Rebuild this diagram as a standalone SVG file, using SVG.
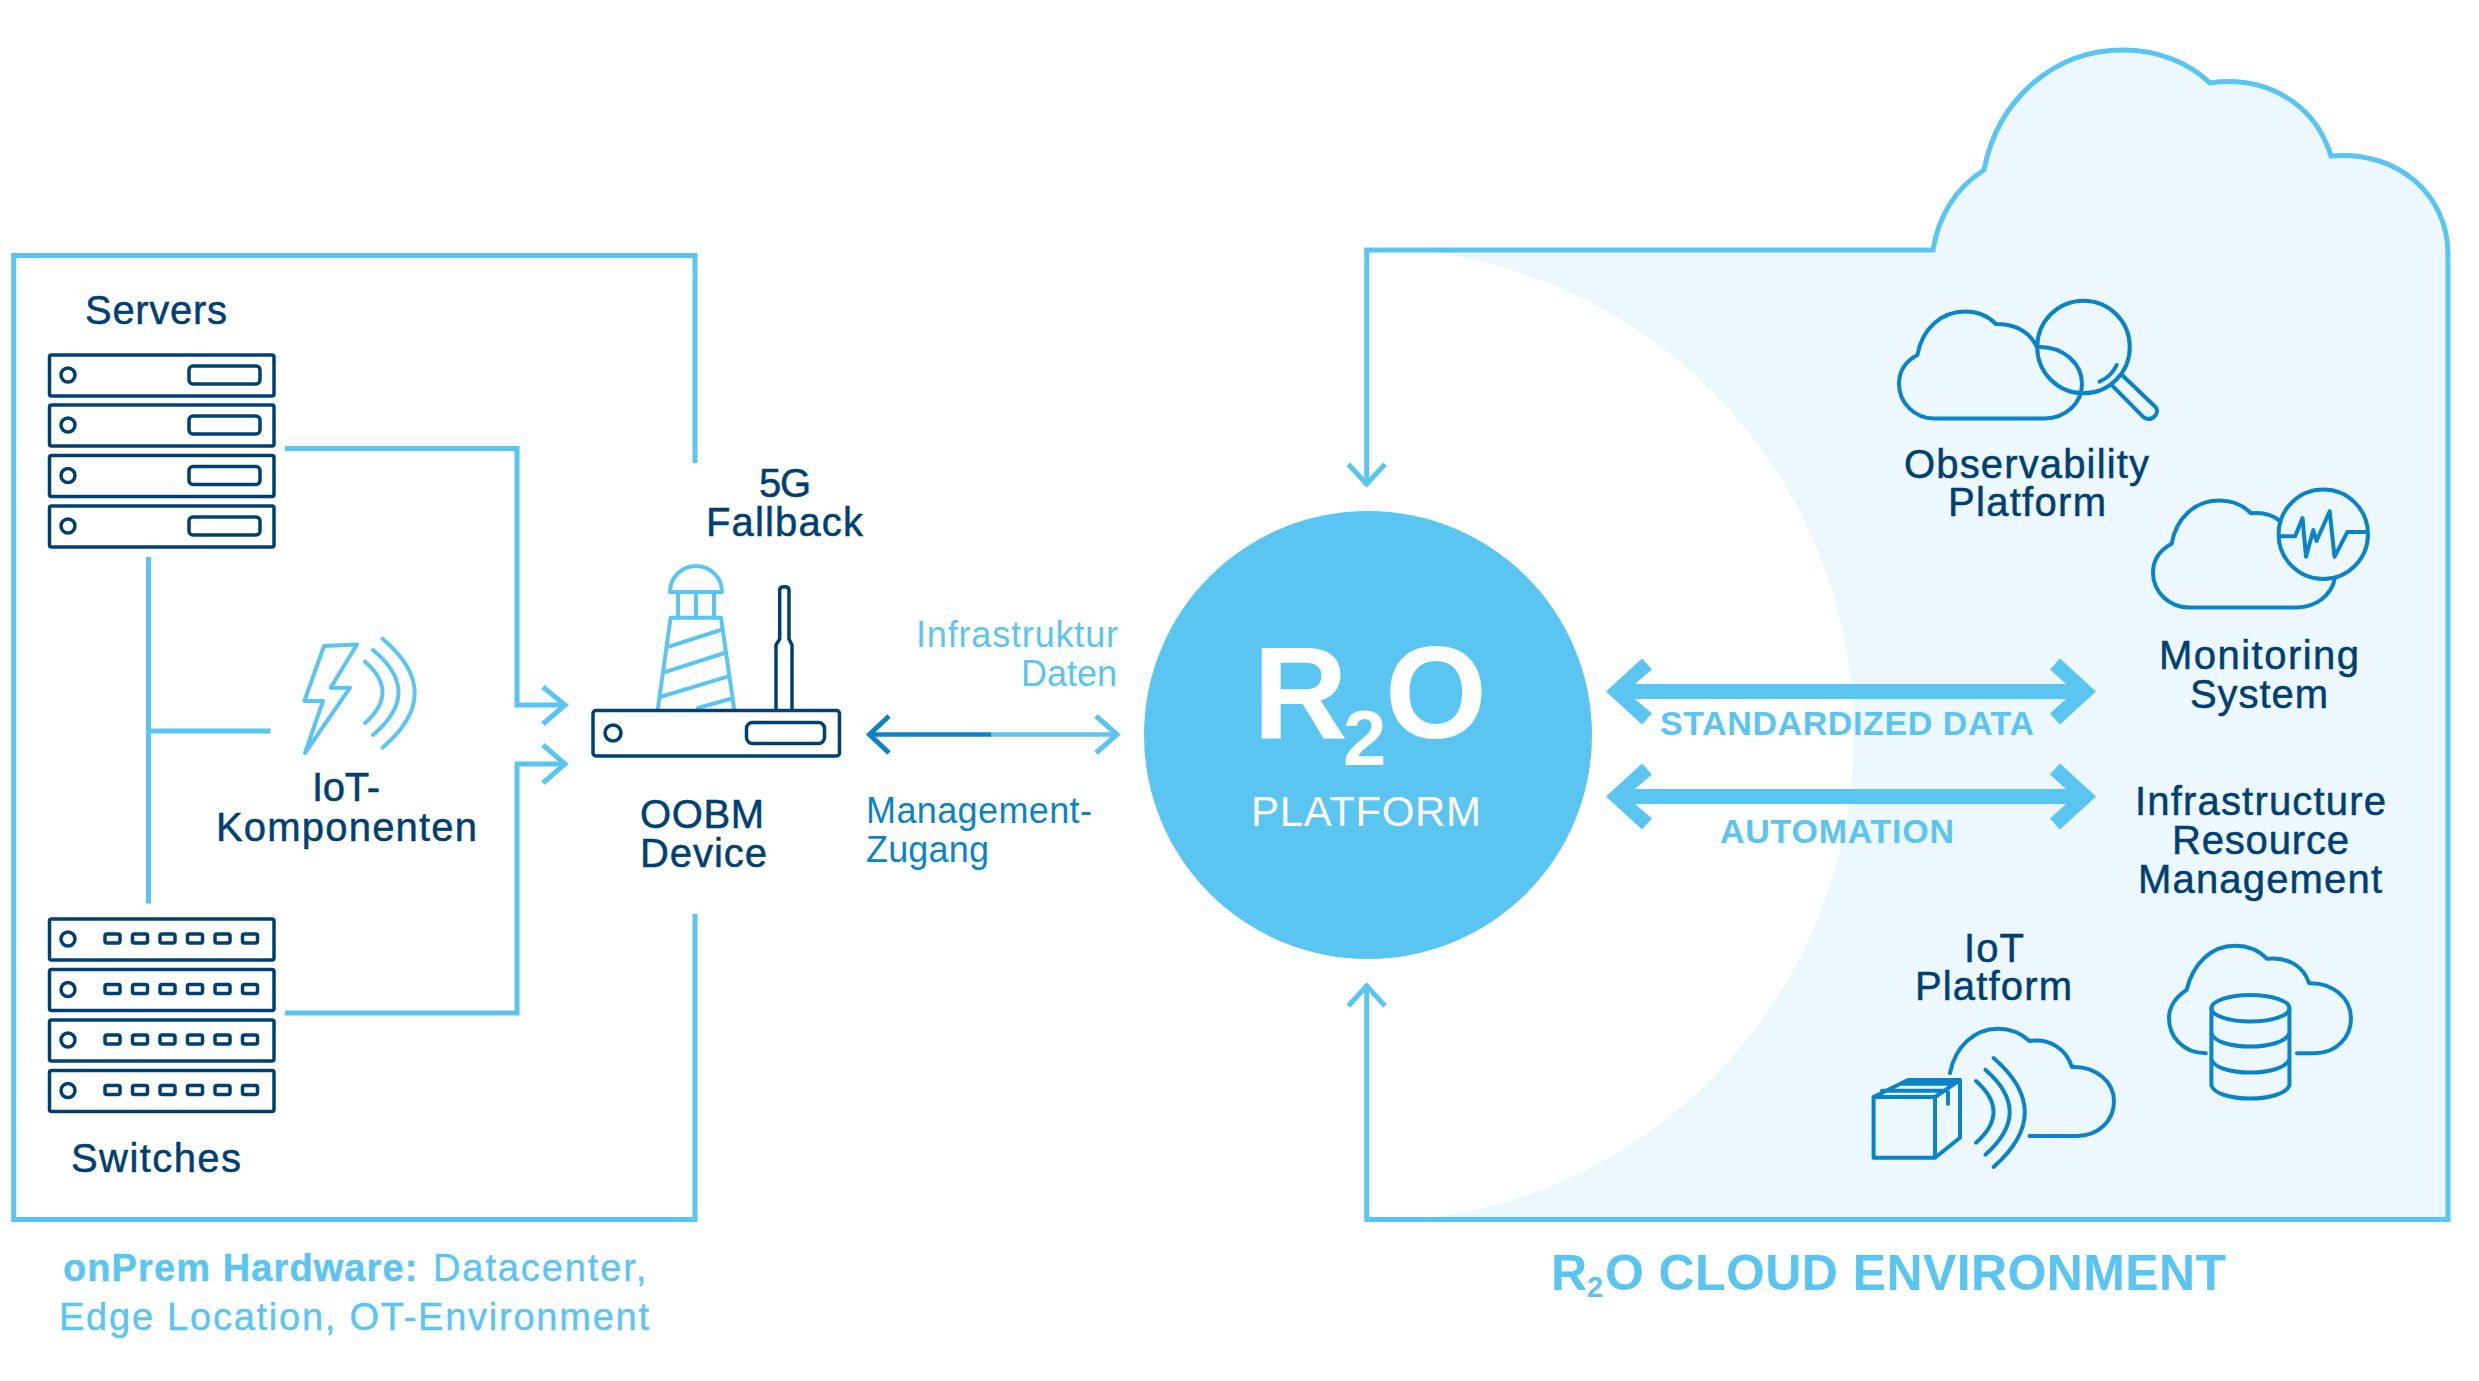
<svg xmlns="http://www.w3.org/2000/svg" xmlns:xlink="http://www.w3.org/1999/xlink" width="2479" height="1381" viewBox="0 0 2479 1381">
<style>
text{font-family:"Liberation Sans",Arial,sans-serif}
.d{fill:#004071;font-size:40px;stroke:#004071;stroke-width:.5px}
.l{fill:#5bc5f2;font-size:36px}
.m{fill:#0a84c6;font-size:36px}
.b{font-weight:700}
.s{font-size:34px}
.cap{fill:#5bc5f2;font-size:38px;stroke:#5bc5f2;stroke-width:.4px}
.conn{fill:none;stroke:#5bc5f2;stroke-width:5}
.tl{fill:none;stroke:#5bc5f2;stroke-width:4;stroke-linejoin:round;stroke-linecap:round}
.tn{fill:none;stroke:#004071;stroke-width:3.5;stroke-linejoin:round;stroke-linecap:round}
.tm{fill:none;stroke:#0a84c6;stroke-width:4;stroke-linejoin:round;stroke-linecap:round}
.fat{fill:#5bc5f2}
</style>
<defs>
<g id="srv"><rect class="tn" x="49.5" y="0" width="224.5" height="41" rx="2"/><circle class="tn" cx="68" cy="20" r="7"/><rect class="tn" x="189" y="11" width="71" height="18" rx="4"/></g>
<g id="swi"><rect class="tn" x="49.5" y="0" width="224.5" height="41" rx="2"/><circle class="tn" cx="68" cy="20" r="7"/>
<rect class="tn" x="105" y="15" width="15" height="9" rx="2"/><rect class="tn" x="132.5" y="15" width="15" height="9" rx="2"/><rect class="tn" x="160" y="15" width="15" height="9" rx="2"/><rect class="tn" x="187.5" y="15" width="15" height="9" rx="2"/><rect class="tn" x="215" y="15" width="15" height="9" rx="2"/><rect class="tn" x="242.5" y="15" width="15" height="9" rx="2"/></g>
<clipPath id="cloudClip"><path d="M1367,250H1933C1938,218 1955,188 1984,170C1998,98 2055,50 2123,50C2157,50 2188,62 2210,83C2265,75 2315,103 2331,156C2398,150 2448,195 2448,254V1219.5H1367Z"/></clipPath>
</defs>

<g id="cloud-environment">
<path d="M1367,250H1933C1938,218 1955,188 1984,170C1998,98 2055,50 2123,50C2157,50 2188,62 2210,83C2265,75 2315,103 2331,156C2398,150 2448,195 2448,254V1219.5H1367Z" fill="#ecf7fe"/>
<circle cx="1367" cy="735" r="487" fill="#fff" clip-path="url(#cloudClip)"/>
<path class="conn" d="M1366.7,486V250H1933C1938,218 1955,188 1984,170C1998,98 2055,50 2123,50C2157,50 2188,62 2210,83C2265,75 2315,103 2331,156C2398,150 2448,195 2448,254V1219.5H1366.7V984"/>
<text class="b" x="1551" y="1290" font-size="50" fill="#5bc5f2">R<tspan x="1587" y="1296.7" font-size="29">2</tspan><tspan x="1605" y="1290" letter-spacing="0.4">O CLOUD ENVIRONMENT</tspan></text>
</g>

<g id="onprem-box">
<path class="conn" d="M695,463V255.5H13.7V1219.5H695V914"/>
<text class="cap" y="1281"><tspan class="b" x="63" letter-spacing="1.1">onPrem Hardware:</tspan><tspan x="433" letter-spacing="1.9">Datacenter,</tspan></text>
<text class="cap" x="59" y="1330" textLength="590">Edge Location, OT-Environment</text>
</g>

<g id="connectors">
<path class="conn" d="M285,448.5H517V705H563"/>
<path class="conn" d="M285,1013H517V764H563"/>
<path class="conn" d="M543,687L565,705L543,724"/>
<path class="conn" d="M543,745L565,764L543,783"/>
<path class="conn" stroke-width="4" d="M148.5,557V903.5"/>
<path class="conn" d="M148.5,731H270.5"/>
<path class="conn" d="M1348.3,464.3L1366.7,484L1385,464.3"/>
<path class="conn" d="M1348.3,1006L1366.7,986L1385,1006"/>
<path fill="none" stroke="#0a84c6" stroke-width="4.5" d="M870,734.5H991"/>
<path fill="none" stroke="#5bc5f2" stroke-width="4.5" d="M991,734.5H1116"/>
<path fill="none" stroke="#0a84c6" stroke-width="5" d="M889,716L869.5,734.5L889,753"/>
<path fill="none" stroke="#5bc5f2" stroke-width="5" d="M1096,716L1117,734.5L1096,753"/>
<polygon class="fat" points="1606,691.5 1642,658.5 1652,669.5 1635,684 2066,684 2050,669.5 2060,658.5 2096,691.5 2060,724.5 2050,713.5 2066,699 1635,699 1652,713.5 1642,724.5"/>
<polygon class="fat" points="1606,796.5 1642,763.5 1652,774.5 1635,789 2066,789 2050,774.5 2060,763.5 2096,796.5 2060,829.5 2050,818.5 2066,804 1635,804 1652,818.5 1642,829.5"/>
<text class="l b s" x="1660" y="735" textLength="374">STANDARDIZED DATA</text>
<text class="l b s" x="1720" y="843" textLength="234">AUTOMATION</text>
<text class="l" x="916" y="647" textLength="202">Infrastruktur</text>
<text class="l" x="1021" y="685.5" textLength="96">Daten</text>
<text class="m" x="866" y="822.5" textLength="226">Management-</text>
<text class="m" x="866" y="861.5" textLength="123">Zugang</text>
</g>

<g id="servers">
<text class="d" x="85" y="324" textLength="142">Servers</text>
<use xlink:href="#srv" href="#srv" y="355"/><use xlink:href="#srv" href="#srv" y="405"/><use xlink:href="#srv" href="#srv" y="455.5"/><use xlink:href="#srv" href="#srv" y="506"/>
</g>

<g id="switches">
<use xlink:href="#swi" href="#swi" y="919"/><use xlink:href="#swi" href="#swi" y="969.5"/><use xlink:href="#swi" href="#swi" y="1020"/><use xlink:href="#swi" href="#swi" y="1070.5"/>
<text class="d" x="71" y="1172" textLength="170">Switches</text>
</g>

<g id="iot-components">
<path class="tl" stroke-width="3.5" d="M324,646L357,644.5L330.6,687.7H350L305,753L323,701H304.4Z"/>
<path class="tl" d="M365,661.7Q400,692 365,723"/>
<path class="tl" d="M373,650Q424,692 373,735"/>
<path class="tl" d="M382.5,638.7Q447,693 382.5,747.7"/>
<text class="d" x="312" y="801" textLength="68">IoT-</text>
<text class="d" x="216" y="841" textLength="261">Komponenten</text>
</g>

<g id="oobm-device">
<text class="d" x="759" y="496.5" textLength="52">5G</text>
<text class="d" x="706" y="535.5" textLength="157">Fallback</text>
<path class="tl" d="M670,592A26,26 0 0 1 722,592Z"/>
<path class="tl" d="M678,592V617.7M696,592V617.7M714,592V617.7"/>
<path class="tl" d="M658,708L670.6,617.7H721L734,708"/>
<path class="tl" d="M669,646.7L720.7,630M664,672.3L724.6,653M660,697L727.6,676.7M697.8,708L730,699"/>
<path class="tn" d="M776,709V645L779.7,639V590Q779.7,586.7 784.4,586.7Q789,586.7 789,590V639L792,645V709"/>
<rect class="tn" stroke-width="4" x="593" y="710.5" width="246.5" height="45.5" rx="3"/>
<circle class="tn" cx="613" cy="733" r="8"/>
<rect class="tn" x="746.5" y="722.5" width="78" height="21" rx="6"/>
<text class="d" x="640" y="828" textLength="124">OOBM</text>
<text class="d" x="640" y="866.5" textLength="127">Device</text>
</g>

<g id="r2o-platform">
<circle cx="1368" cy="735" r="224" fill="#5bc5f2"/>
<text class="b" x="1253" y="738" font-size="131" fill="#fff">R<tspan x="1343" y="764.5" font-size="78">2</tspan><tspan x="1385" y="738">O</tspan></text>
<text x="1251" y="825.5" font-size="42" fill="#fff" textLength="230">PLATFORM</text>
</g>

<g id="observability-platform" transform="translate(0,1)">
<path class="tm" d="M2037,346C2030,332 2018,323 1996,323C1988,315 1977,310.6 1965.5,310.6C1941,310.6 1922,328 1917.4,354C1906,360 1899,370 1899,383C1899,402 1915,417.4 1934,417.4H2044.5C2066,417.4 2082,402 2082,383C2082,362 2063,346 2040,346"/>
<circle class="tm" cx="2083.5" cy="346" r="46.3"/>
<path class="tm" d="M2099.5,380.6Q2111,376 2116.7,364"/>
<path class="tm" d="M2111.5,383.8L2144,416.6Q2150,420 2155,415Q2159,410 2155.5,406L2122.8,374.7"/>
<text class="d" x="1904" y="476.5" textLength="245">Observability</text>
<text class="d" x="1948" y="515" textLength="158">Platform</text>
</g>

<g id="monitoring-system" transform="translate(0,1)">
<path class="tm" d="M2280.4,520.2C2273,514 2263,511 2251,512.3C2243,504 2232,499.6 2219,499.6C2195,499.6 2176,517 2171.7,542.7C2160,549 2153,559 2153,571.6C2153,591 2169,606.4 2189,606.4H2297C2316,606.4 2332,594 2335,576.7"/>
<circle class="tm" cx="2323.3" cy="533.2" r="44.7"/>
<path class="tm" d="M2280.4,535.2H2295.2L2302.5,517L2306,555.8L2313.3,529L2316.5,540L2329.7,510.3L2334.5,555.8L2347.4,530.9H2365.4"/>
<text class="d" x="2159" y="668" textLength="200">Monitoring</text>
<text class="d" x="2190" y="707" textLength="138">System</text>
</g>

<g id="infrastructure-resource-management">
<text class="d" x="2135" y="814.5" textLength="251">Infrastructure</text>
<text class="d" x="2172" y="853.5" textLength="177">Resource</text>
<text class="d" x="2138" y="893" textLength="244">Management</text>
<g transform="translate(0,1.5)">
<path class="tm" d="M2205.8,1051.7C2182,1051.7 2169,1034 2169,1016.7C2169,1005 2175,996 2186.7,988.3C2193,962 2211,944.3 2235,944.3C2248,944.3 2259,949 2267,957.3C2288,955 2304,965 2309,981.7C2333,981 2351,997 2351,1016.7C2351,1036 2336,1051.7 2315.4,1051.7H2297"/>
<ellipse class="tm" cx="2250.4" cy="1006.7" rx="39" ry="13.3"/>
<path class="tm" d="M2211.4,1006.7V1084C2214,1092 2230,1097 2250.4,1097C2270,1097 2286,1092 2289.4,1084V1006.7"/>
<path class="tm" d="M2211.4,1032C2214,1040 2230,1045 2250.4,1045C2270,1045 2286,1040 2289.4,1032"/>
<path class="tm" d="M2211.4,1058C2214,1066 2230,1071 2250.4,1071C2270,1071 2286,1066 2289.4,1058"/>
</g>
</g>

<g id="iot-platform">
<text class="d" x="1964" y="961.5" textLength="60">IoT</text>
<text class="d" x="1915" y="1000" textLength="157">Platform</text>
<g transform="translate(0,2)">
<path class="tm" d="M1873.6,1095H1935V1155.7H1873.6ZM1873.6,1095L1908,1078H1960V1135.7L1935,1155.7M1935,1095L1960,1078M1882,1088.7H1945M1902,1081.7H1953.7M1948,1090V1102"/>
<path class="tm" d="M1976,1079Q2011,1110 1976,1140.7"/>
<path class="tm" d="M1985.4,1067.7Q2034,1110 1985.4,1152.7"/>
<path class="tm" d="M1993.6,1056Q2056,1110 1993.6,1165"/>
<path class="tm" d="M1950,1071C1955,1045 1974,1026.7 1998,1026.7C2011,1026.7 2021,1031 2029.5,1039C2050,1036 2066,1047 2072,1065C2096,1064 2114,1080 2114,1099.3C2114,1119 2098,1134 2077,1134H2029.5"/>
</g>
</g>
</svg>
